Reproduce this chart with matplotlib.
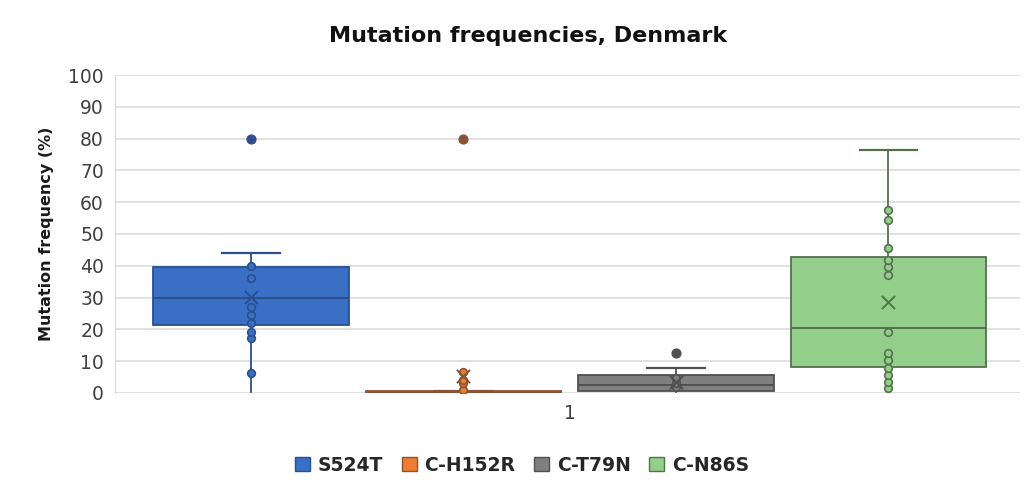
"""Box plot of mutation frequencies in Denmark (Excel style)."""

import matplotlib

matplotlib.use("Agg")
import matplotlib.pyplot as plt  # noqa: E402
from matplotlib.patches import Patch  # noqa: E402

# data
labels = ["S524T", "C-H152R", "C-T79N", "C-N86S"]
q1 = [21.5, 0.0, 0.6, 8.2]
med = [30.0, 0.1, 2.5, 20.4]
q3 = [39.6, 0.5, 5.7, 42.8]
whislo = [0.3, 0.0, 0.4, 1.5]
whishi = [44.0, 0.5, 8.0, 76.5]
means = [30.2, 5.3, 3.5, 28.6]
outliers = [[80.0], [80.0], [12.5], []]
inner_points = [
    [6.2, 17.2, 19.3, 21.9, 24.5, 27.0, 36.1, 39.8],
    [0.9, 3.0, 4.1, 6.7],
    [2.0, 3.0, 4.6],
    [1.5, 3.6, 5.7, 7.8, 10.4, 12.5, 19.3, 37.1, 39.7, 41.8, 45.5, 54.4, 57.5],
]
yticks = list(range(0, 101, 10))

fills = ["#3a6fc6", "#ed7d31", "#7f7f7f", "#93cf8a"]
edges = ["#2a4f8c", "#8c5236", "#505050", "#55704f"]

fig = plt.figure(figsize=(10.3, 4.88), dpi=100)
ax = fig.add_axes([0.1117, 0.1947, 0.8786, 0.6516])

stats = []
for i in range(len(labels)):
    stats.append(dict(q1=q1[i], med=med[i], q3=q3[i], whislo=whislo[i],
                      whishi=whishi[i], mean=means[i], fliers=[], label=labels[i]))

pos = list(range(len(labels)))
res = ax.bxp(stats, positions=pos, widths=0.92, patch_artist=True,
             showfliers=False, showmeans=False, capwidths=0.27)

for i, box in enumerate(res["boxes"]):
    box.set_facecolor(fills[i])
    box.set_edgecolor(edges[i])
    box.set_linewidth(1.3)
    res["medians"][i].set_color(edges[i])
    res["medians"][i].set_linewidth(1.4)
    for w in res["whiskers"][2 * i:2 * i + 2]:
        w.set_color(edges[i])
        w.set_linewidth(1.3)
    lo_cap, hi_cap = res["caps"][2 * i:2 * i + 2]
    lo_cap.set_visible(False)
    hi_cap.set_color(edges[i])
    hi_cap.set_linewidth(1.6)
    box.set_zorder(2)

for i in range(len(labels)):
    ax.scatter([pos[i]] * len(inner_points[i]), inner_points[i], s=30,
               facecolors=fills[i], edgecolors=edges[i], linewidths=1.2, zorder=4)
    if outliers[i]:
        ax.scatter([pos[i]] * len(outliers[i]), outliers[i], s=40,
                   color=edges[i], zorder=4)
    ax.scatter([pos[i]], [means[i]], marker="x", s=90, color=edges[i],
               linewidths=1.4, zorder=5)

ax.set_xlim(-0.64, 3.62)
ax.set_ylim(0, 100)
ax.set_yticks(yticks)
ax.set_xticks([1.5])
ax.set_xticklabels(["1"])
ax.tick_params(axis="both", length=0, labelsize=13.5, colors="#404040", pad=8)
ax.yaxis.grid(True, color="#d9d9d9", linewidth=1.1)
ax.set_axisbelow(True)
for side in ["top", "right", "bottom"]:
    ax.spines[side].set_visible(False)
ax.spines["left"].set_color("#d9d9d9")

ax.set_ylabel("Mutation frequency (%)", fontsize=11.5, fontweight="bold",
              color="#1a1a1a", labelpad=10)
fig.text(0.513, 0.927, "Mutation frequencies, Denmark", ha="center",
         va="center", fontsize=16, fontweight="bold", color="#111111")

handles = [Patch(facecolor=fills[i], edgecolor=edges[i], label=labels[i])
           for i in range(len(labels))]
fig.legend(handles=handles, loc="center", bbox_to_anchor=(0.507, 0.047), ncol=4,
           frameon=False, handlelength=0.8, handleheight=0.8, handletextpad=0.4,
           columnspacing=1.0, prop={"size": 13.5, "weight": "bold"},
           labelcolor="#262626")

fig.savefig("out.png", dpi=100)
